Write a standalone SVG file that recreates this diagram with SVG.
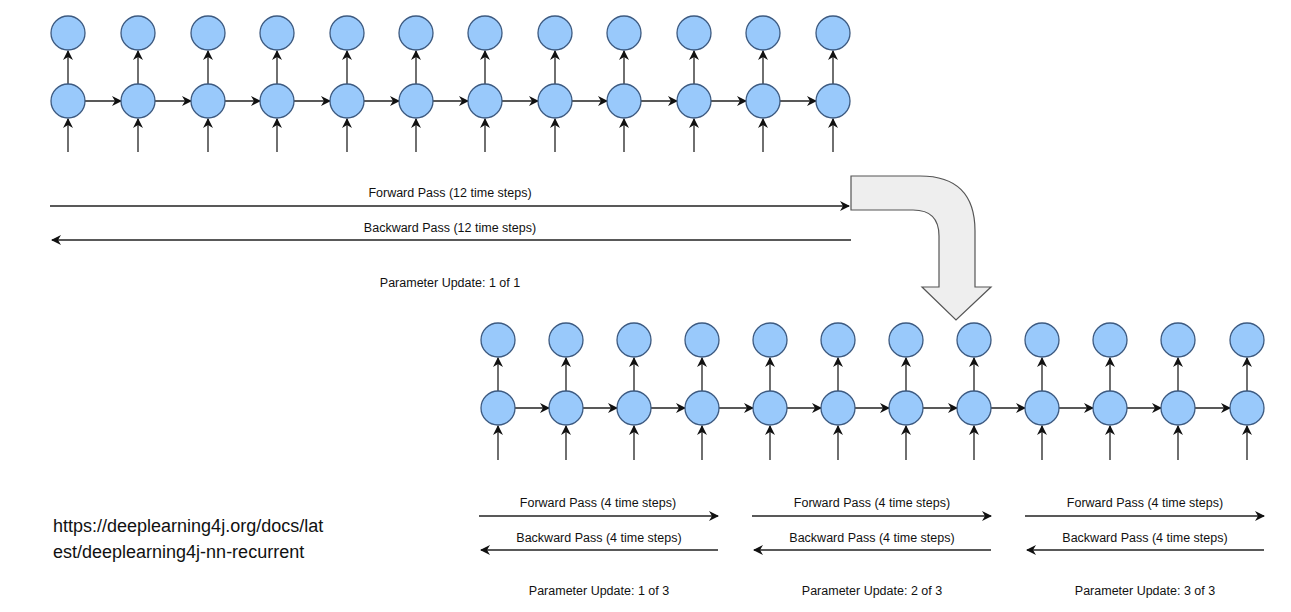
<svg xmlns="http://www.w3.org/2000/svg" width="1291" height="612" viewBox="0 0 1291 612">
<defs>
<style>
.n{fill:#99c9fb;stroke:#3d5a80;stroke-width:1.3}
line{stroke:#222;stroke-width:1.3;marker-end:url(#ah)}
text{font-family:"Liberation Sans",Arial,sans-serif;font-size:12.5px;fill:#111}
</style>
<marker id="ah" viewBox="0 0 10 10" refX="9" refY="5" markerWidth="10" markerHeight="10" markerUnits="userSpaceOnUse" orient="auto"><path d="M0,0 L10,5 L0,10 L3,5 z" fill="#111"/></marker>
<g id="cell"><circle class="n" cx="0" cy="0" r="17"/></g>
</defs>
<rect width="1291" height="612" fill="#fff"/>
<g id="connectors">
<line x1="68" y1="152" x2="68" y2="119"/><line x1="68" y1="84" x2="68" y2="51"/>
<line x1="138" y1="152" x2="138" y2="119"/><line x1="138" y1="84" x2="138" y2="51"/>
<line x1="208" y1="152" x2="208" y2="119"/><line x1="208" y1="84" x2="208" y2="51"/>
<line x1="277" y1="152" x2="277" y2="119"/><line x1="277" y1="84" x2="277" y2="51"/>
<line x1="347" y1="152" x2="347" y2="119"/><line x1="347" y1="84" x2="347" y2="51"/>
<line x1="416" y1="152" x2="416" y2="119"/><line x1="416" y1="84" x2="416" y2="51"/>
<line x1="485" y1="152" x2="485" y2="119"/><line x1="485" y1="84" x2="485" y2="51"/>
<line x1="555" y1="152" x2="555" y2="119"/><line x1="555" y1="84" x2="555" y2="51"/>
<line x1="624" y1="152" x2="624" y2="119"/><line x1="624" y1="84" x2="624" y2="51"/>
<line x1="694" y1="152" x2="694" y2="119"/><line x1="694" y1="84" x2="694" y2="51"/>
<line x1="763" y1="152" x2="763" y2="119"/><line x1="763" y1="84" x2="763" y2="51"/>
<line x1="833" y1="152" x2="833" y2="119"/><line x1="833" y1="84" x2="833" y2="51"/>
<line x1="85" y1="101" x2="121" y2="101"/><line x1="155" y1="101" x2="191" y2="101"/>
<line x1="225" y1="101" x2="260" y2="101"/><line x1="294" y1="101" x2="330" y2="101"/>
<line x1="364" y1="101" x2="399" y2="101"/><line x1="433" y1="101" x2="468" y2="101"/>
<line x1="502" y1="101" x2="538" y2="101"/><line x1="572" y1="101" x2="607" y2="101"/>
<line x1="641" y1="101" x2="677" y2="101"/><line x1="711" y1="101" x2="746" y2="101"/>
<line x1="780" y1="101" x2="816" y2="101"/>
<line x1="50" y1="206" x2="849" y2="206"/>
<line x1="851" y1="240" x2="52" y2="240"/>
<line x1="498" y1="460" x2="498" y2="426"/><line x1="498" y1="391" x2="498" y2="358"/>
<line x1="566" y1="460" x2="566" y2="426"/><line x1="566" y1="391" x2="566" y2="358"/>
<line x1="634" y1="460" x2="634" y2="426"/><line x1="634" y1="391" x2="634" y2="358"/>
<line x1="702" y1="460" x2="702" y2="426"/><line x1="702" y1="391" x2="702" y2="358"/>
<line x1="770" y1="460" x2="770" y2="426"/><line x1="770" y1="391" x2="770" y2="358"/>
<line x1="838" y1="460" x2="838" y2="426"/><line x1="838" y1="391" x2="838" y2="358"/>
<line x1="906" y1="460" x2="906" y2="426"/><line x1="906" y1="391" x2="906" y2="358"/>
<line x1="974" y1="460" x2="974" y2="426"/><line x1="974" y1="391" x2="974" y2="358"/>
<line x1="1042" y1="460" x2="1042" y2="426"/><line x1="1042" y1="391" x2="1042" y2="358"/>
<line x1="1110" y1="460" x2="1110" y2="426"/><line x1="1110" y1="391" x2="1110" y2="358"/>
<line x1="1178" y1="460" x2="1178" y2="426"/><line x1="1178" y1="391" x2="1178" y2="358"/>
<line x1="1247" y1="460" x2="1247" y2="426"/><line x1="1247" y1="391" x2="1247" y2="358"/>
<line x1="515" y1="408" x2="549" y2="408"/><line x1="583" y1="408" x2="617" y2="408"/>
<line x1="651" y1="408" x2="685" y2="408"/><line x1="719" y1="408" x2="753" y2="408"/>
<line x1="787" y1="408" x2="821" y2="408"/><line x1="855" y1="408" x2="889" y2="408"/>
<line x1="923" y1="408" x2="957" y2="408"/><line x1="991" y1="408" x2="1025" y2="408"/>
<line x1="1059" y1="408" x2="1093" y2="408"/><line x1="1127" y1="408" x2="1161" y2="408"/>
<line x1="1195" y1="408" x2="1230" y2="408"/>
<line x1="479" y1="516" x2="718" y2="516"/><line x1="752" y1="516" x2="991" y2="516"/><line x1="1025" y1="516" x2="1264" y2="516"/>
<line x1="718" y1="550" x2="481" y2="550"/><line x1="991" y1="550" x2="754" y2="550"/><line x1="1264" y1="550" x2="1027" y2="550"/>
</g>
<g id="top-nodes">
<use href="#cell" x="68" y="33"/><use href="#cell" x="68" y="101"/>
<use href="#cell" x="138" y="33"/><use href="#cell" x="138" y="101"/>
<use href="#cell" x="208" y="33"/><use href="#cell" x="208" y="101"/>
<use href="#cell" x="277" y="33"/><use href="#cell" x="277" y="101"/>
<use href="#cell" x="347" y="33"/><use href="#cell" x="347" y="101"/>
<use href="#cell" x="416" y="33"/><use href="#cell" x="416" y="101"/>
<use href="#cell" x="485" y="33"/><use href="#cell" x="485" y="101"/>
<use href="#cell" x="555" y="33"/><use href="#cell" x="555" y="101"/>
<use href="#cell" x="624" y="33"/><use href="#cell" x="624" y="101"/>
<use href="#cell" x="694" y="33"/><use href="#cell" x="694" y="101"/>
<use href="#cell" x="763" y="33"/><use href="#cell" x="763" y="101"/>
<use href="#cell" x="833" y="33"/><use href="#cell" x="833" y="101"/>
</g>
<g id="bottom-nodes">
<use href="#cell" x="498" y="340"/><use href="#cell" x="498" y="408"/>
<use href="#cell" x="566" y="340"/><use href="#cell" x="566" y="408"/>
<use href="#cell" x="634" y="340"/><use href="#cell" x="634" y="408"/>
<use href="#cell" x="702" y="340"/><use href="#cell" x="702" y="408"/>
<use href="#cell" x="770" y="340"/><use href="#cell" x="770" y="408"/>
<use href="#cell" x="838" y="340"/><use href="#cell" x="838" y="408"/>
<use href="#cell" x="906" y="340"/><use href="#cell" x="906" y="408"/>
<use href="#cell" x="974" y="340"/><use href="#cell" x="974" y="408"/>
<use href="#cell" x="1042" y="340"/><use href="#cell" x="1042" y="408"/>
<use href="#cell" x="1110" y="340"/><use href="#cell" x="1110" y="408"/>
<use href="#cell" x="1178" y="340"/><use href="#cell" x="1178" y="408"/>
<use href="#cell" x="1247" y="340"/><use href="#cell" x="1247" y="408"/>
</g>
<g id="bent-arrow">
<path d="M851,176H920Q975,176 975,231V287H991L956,320L922,287H939V236Q939,210 913,210H851Z" fill="#eeeeee" stroke="#555" stroke-width="1.2"/>
</g>
<g id="labels" text-anchor="middle">
<text x="450" y="197">Forward Pass (12 time steps)</text>
<text x="450" y="232">Backward Pass (12 time steps)</text>
<text x="450" y="287">Parameter Update: 1 of 1</text>
<text x="598" y="507">Forward Pass (4 time steps)</text>
<text x="599" y="542">Backward Pass (4 time steps)</text>
<text x="599" y="595">Parameter Update: 1 of 3</text>
<text x="872" y="507">Forward Pass (4 time steps)</text>
<text x="872" y="542">Backward Pass (4 time steps)</text>
<text x="872" y="595">Parameter Update: 2 of 3</text>
<text x="1145" y="507">Forward Pass (4 time steps)</text>
<text x="1145" y="542">Backward Pass (4 time steps)</text>
<text x="1145" y="595">Parameter Update: 3 of 3</text>
</g>
<g id="url">
<text x="53" y="532" style="font-size:18px">https://deeplearning4j.org/docs/lat</text>
<text x="53" y="558" style="font-size:18px">est/deeplearning4j-nn-recurrent</text>
</g>
</svg>
